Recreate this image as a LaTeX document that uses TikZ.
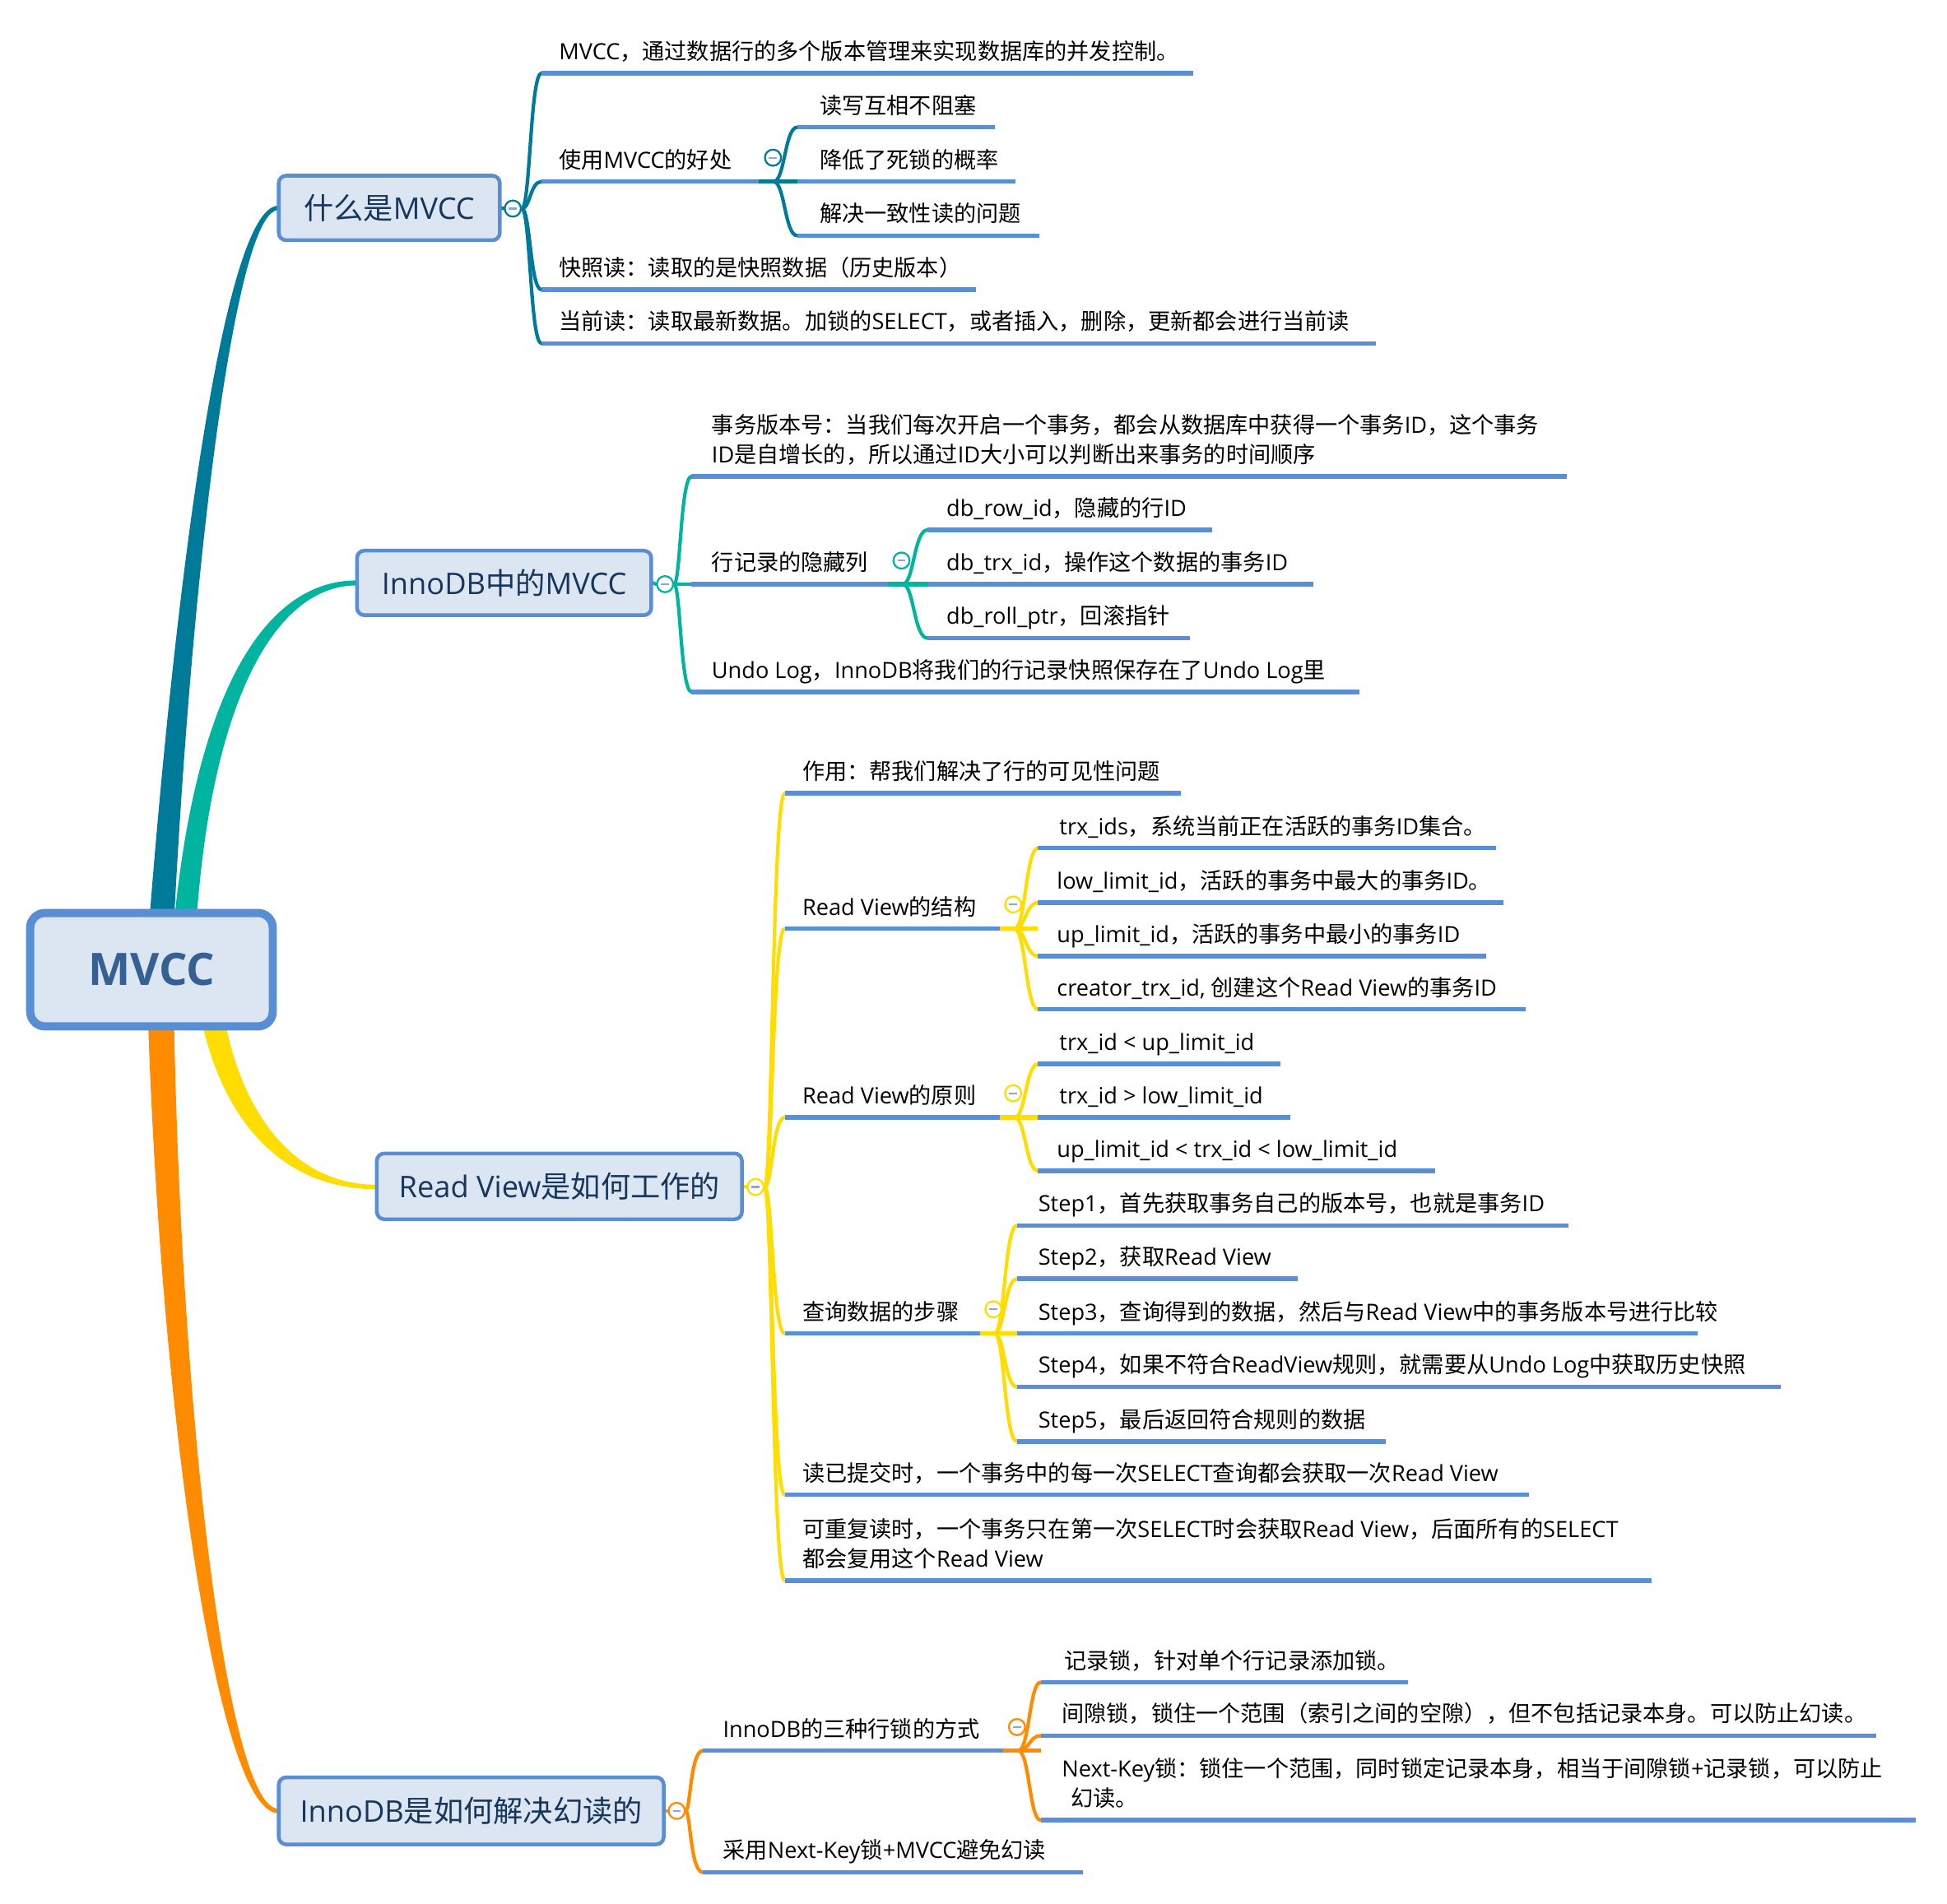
\documentclass[tikz,border=0pt]{standalone}
\usepackage{fontspec}
\setmainfont{Open Sans}
\newfontfamily\cjkfam{Noto Sans CJK SC}
\usetikzlibrary{calc}
\pgfdeclarelayer{bg}
\pgfsetlayers{bg,main}
\XeTeXinterchartokenstate=1
\newXeTeXintercharclass\CJKcls
\newcount\cjkc
\def\setcjkrange#1#2{\cjkc=#1\relax\loop\XeTeXcharclass\cjkc=\CJKcls\relax\ifnum\cjkc<#2\relax\advance\cjkc by 1\relax\repeat}
\setcjkrange{"3000}{"303F}
\setcjkrange{"4E00}{"9FFF}
\setcjkrange{"FF00}{"FFEF}
\XeTeXinterchartoks 0 \CJKcls = {\cjkfam}
\XeTeXinterchartoks 4095 \CJKcls = {\cjkfam}
\XeTeXinterchartoks \CJKcls 0 = {\rmfamily}
\XeTeXinterchartoks \CJKcls 4095 = {\rmfamily}
\definecolor{brA}{RGB}{0,122,153}
\definecolor{brB}{RGB}{0,180,160}
\definecolor{brC}{RGB}{255,221,0}
\definecolor{brD}{RGB}{255,140,0}
\definecolor{ulc}{RGB}{89,143,214}
\definecolor{boxf}{RGB}{220,230,242}
\definecolor{boxd}{RGB}{88,142,212}
\definecolor{boxt}{RGB}{23,54,93}
\definecolor{roott}{RGB}{54,96,146}
\definecolor{minc}{RGB}{150,160,210}
\tikzset{
  uline/.style={line width=3.6pt, ulc},
  bline/.style={line width=2.8pt, line cap=round},
  jline/.style={line width=3.6pt},
  txt/.style={anchor=base west, inner sep=0pt, font=\fontsize{18pt}{24pt}\selectfont},
  topicbox/.style={rectangle, rounded corners=6pt, draw=boxd, line width=3pt, fill=boxf, text=boxt,
     inner sep=0pt, text height=21.1pt, text depth=2.9pt, font=\fontsize{24pt}{28pt}\selectfont},
  rootbox/.style={rectangle, rounded corners=12pt, draw=boxd, line width=6.6pt, fill=boxf, text=roott,
     inner sep=0pt, text height=25.7pt, text depth=0pt, font=\bfseries\fontsize{36pt}{40pt}\selectfont},
  circ/.style={circle, draw=#1, fill=white, line width=1.5pt, minimum size=13pt, inner sep=0pt,
     path picture={\draw[minc, line width=1.4pt] ([xshift=-3.2pt]path picture bounding box.center) -- ([xshift=3.2pt]path picture bounding box.center);}}
}
\newcommand\leaf[6]{%
  \coordinate (#1s) at (#2,#4);
  \coordinate (#1e) at (#3,#4);
  \draw[uline] (#1s) -- (#1e);
  \node[txt] (#1) at (#5,#4-11) {#6};
}
\newcommand\leafii[8]{%
  \coordinate (#1s) at (#2,#4);
  \coordinate (#1e) at (#3,#4);
  \draw[uline] (#1s) -- (#1e);
  \node[txt] (#1) at (#5,#4-35) {#6};
  \node[txt] (#1b) at (#7,#4-11) {#8};
}
\newcommand\conn[4]{%
  \draw[bline,#1] (#2) .. controls (#2 -| #3) and (#4 -| #3) .. (#4);
}
\begin{document}
\begin{tikzpicture}[x=1pt,y=-1pt]
\useasboundingbox (0,0) rectangle (1568,1533);

% ---------- root ----------
\node[rootbox, minimum width=195.4pt, minimum height=91.4pt] (root) at (122,781) {MVCC};

% ---------- branch 1 ----------
\node[topicbox, minimum width=178pt, minimum height=52pt] (b1) at (313.5,167.5) {什么是MVCC};
\node[circ=brA] (c1) at (413,168) {};
\coordinate (sp1) at (427,0);
\leaf{a1}{436}{961}{59}{450}{MVCC，通过数据行的多个版本管理来实现数据库的并发控制。}
\leaf{a2}{436}{611}{146.3}{450}{使用MVCC的好处}
\leaf{a3}{436}{786}{233.3}{450}{快照读：读取的是快照数据（历史版本）}
\leaf{a4}{436}{1108}{276.6}{450}{当前读：读取最新数据。加锁的SELECT，或者插入，删除，更新都会进行当前读}
\node[circ=brA] (c12) at (622.5,127) {};
\coordinate (j12) at (642,146.3);
\coordinate (k12) at (623,146.3);
\coordinate (sp12) at (632,0);
\leaf{a21}{642}{801}{102.5}{660}{读写互相不阻塞}
\leaf{a22}{642}{818}{146.3}{660}{降低了死锁的概率}
\leaf{a23}{642}{837}{189.8}{660}{解决一致性读的问题}

% ---------- branch 2 ----------
\node[topicbox, minimum width=237pt, minimum height=52pt] (b2) at (406,469.5) {InnoDB中的MVCC};
\node[circ=brB] (c2) at (535.6,470.5) {};
\coordinate (sp2) at (548,0);
\leafii{i1}{557}{1262}{383.7}{573}{事务版本号：当我们每次开启一个事务，都会从数据库中获得一个事务ID，这个事务}{573}{ID是自增长的，所以通过ID大小可以判断出来事务的时间顺序}
\leaf{i2}{557}{715}{470.5}{573}{行记录的隐藏列}
\leaf{i3}{557}{1095}{557.3}{573}{Undo Log，InnoDB将我们的行记录快照保存在了Undo Log里}
\node[circ=brB] (c22) at (726,451.5) {};
\coordinate (j22) at (747,470.5);
\coordinate (k22) at (727,470.5);
\coordinate (sp22) at (736,0);
\leaf{i21}{747}{976}{426.8}{762}{db\_row\_id，隐藏的行ID}
\leaf{i22}{747}{1058}{470.5}{762}{db\_trx\_id，操作这个数据的事务ID}
\leaf{i23}{747}{958}{514}{762}{db\_roll\_ptr，回滚指针}

% ---------- branch 3 ----------
\node[topicbox, minimum width=294pt, minimum height=53pt] (b3) at (450.5,955.5) {Read View是如何工作的};
\node[circ=brC] (c3) at (608.5,956) {};
\coordinate (sp3) at (622,0);
\leaf{r1}{632}{951}{639}{646}{作用：帮我们解决了行的可见性问题}
\leaf{r2}{632}{805}{748}{646}{Read View的结构}
\leaf{r3}{632}{805}{900}{646}{Read View的原则}
\leaf{r4}{632}{789}{1074}{646}{查询数据的步骤}
\leaf{r5}{632}{1231}{1204}{646}{读已提交时，一个事务中的每一次SELECT查询都会获取一次Read View}
\leafii{r6}{632}{1330}{1273}{646}{可重复读时，一个事务只在第一次SELECT时会获取Read View，后面所有的SELECT}{646}{都会复用这个Read View}
\node[circ=brC] (c32) at (816,728.5) {};
\coordinate (j32) at (836,748);
\coordinate (k32) at (817,748);
\coordinate (sp32) at (826,0);
\leaf{r21}{836}{1205}{683}{853}{trx\_ids，系统当前正在活跃的事务ID集合。}
\leaf{r22}{836}{1211}{727}{851}{low\_limit\_id，活跃的事务中最大的事务ID。}
\leaf{r23}{836}{1197}{770}{851}{up\_limit\_id，活跃的事务中最小的事务ID}
\leaf{r24}{836}{1229}{813}{851}{creator\_trx\_id, 创建这个Read View的事务ID}
\node[circ=brC] (c33) at (816,880.5) {};
\coordinate (j33) at (836,900);
\coordinate (k33) at (817,900);
\coordinate (sp33) at (826,0);
\leaf{r31}{836}{1031}{857}{853}{trx\_id < up\_limit\_id}
\leaf{r32}{836}{1039}{900}{853}{trx\_id > low\_limit\_id}
\leaf{r33}{836}{1156}{943}{851}{up\_limit\_id < trx\_id < low\_limit\_id}
\node[circ=brC] (c34) at (800,1054.5) {};
\coordinate (j34) at (819,1074);
\coordinate (k34) at (801,1074);
\coordinate (sp34) at (809,0);
\leaf{r41}{819}{1263}{987}{836}{Step1，首先获取事务自己的版本号，也就是事务ID}
\leaf{r42}{819}{1045}{1030}{836}{Step2，获取Read View}
\leaf{r43}{819}{1367}{1074}{836}{Step3，查询得到的数据，然后与Read View中的事务版本号进行比较}
\leaf{r44}{819}{1434}{1117}{836}{Step4，如果不符合ReadView规则，就需要从Undo Log中获取历史快照}
\leaf{r45}{819}{1116}{1161}{836}{Step5，最后返回符合规则的数据}

% ---------- branch 4 ----------
\node[topicbox, minimum width=310pt, minimum height=54pt] (b4) at (379.5,1458.5) {InnoDB是如何解决幻读的};
\node[circ=brD] (c4) at (545,1458.5) {};
\coordinate (sp4) at (556,0);
\leaf{n1}{566}{808}{1410}{582}{InnoDB的三种行锁的方式}
\leaf{n2}{566}{872}{1508}{582}{采用Next-Key锁+MVCC避免幻读}
\node[circ=brD] (c41) at (819,1391) {};
\coordinate (j41) at (838,1410);
\coordinate (k41) at (820,1410);
\coordinate (sp41) at (829,0);
\leaf{n11}{838}{1134}{1355}{857}{记录锁，针对单个行记录添加锁。}
\leaf{n12}{838}{1511}{1398}{855}{间隙锁，锁住一个范围（索引之间的空隙），但不包括记录本身。可以防止幻读。}
\leafii{n13}{838}{1543}{1466}{855}{Next-Key锁：锁住一个范围，同时锁定记录本身，相当于间隙锁+记录锁，可以防止}{862}{幻读。}

% ---------- connectors (background) ----------
\begin{pgfonlayer}{bg}
% main tapered branches
\fill[brA] (120,745) .. controls (143,450) and (182,165.75) .. (224,165.75) -- (224,169.25) .. controls (190,169.25) and (155,450) .. (140,745) -- cycle;
\fill[brB] (140,745) .. controls (158,556) and (214,467.5) .. (287,467.5) -- (287,471.5) .. controls (222,471.5) and (170,564) .. (158,745) -- cycle;
\fill[brC] (161,815) .. controls (176,895) and (222,957.8) .. (303,957.8) -- (303,954.2) .. controls (230,954.2) and (191,885) .. (180,815) -- cycle;
\fill[brD] (119,815) .. controls (130,1150) and (176,1460.3) .. (224,1460.3) -- (224,1456.7) .. controls (184,1456.7) and (146,1150) .. (140,815) -- cycle;

% branch 1
\draw[bline,brA] (b1.east) -- (c1.west);
\conn{brA}{c1.east}{sp1}{a1s}
\conn{brA}{c1.east}{sp1}{a2s}
\conn{brA}{c1.east}{sp1}{a3s}
\conn{brA}{c1.east}{sp1}{a4s}
\conn{brA}{k12}{sp12}{a21s}
\conn{brA}{k12}{sp12}{a22s}
\conn{brA}{k12}{sp12}{a23s}

% branch 2
\draw[bline,brB] (b2.east) -- (c2.west);
\conn{brB}{c2.east}{sp2}{i1s}
\conn{brB}{c2.east}{sp2}{i2s}
\conn{brB}{c2.east}{sp2}{i3s}
\conn{brB}{k22}{sp22}{i21s}
\conn{brB}{k22}{sp22}{i22s}
\conn{brB}{k22}{sp22}{i23s}

% branch 3
\draw[bline,brC] (b3.east) -- (c3.west);
\conn{brC}{c3.east}{sp3}{r1s}
\conn{brC}{c3.east}{sp3}{r2s}
\conn{brC}{c3.east}{sp3}{r3s}
\conn{brC}{c3.east}{sp3}{r4s}
\conn{brC}{c3.east}{sp3}{r5s}
\conn{brC}{c3.east}{sp3}{r6s}
\conn{brC}{k32}{sp32}{r21s}
\conn{brC}{k32}{sp32}{r22s}
\conn{brC}{k32}{sp32}{r23s}
\conn{brC}{k32}{sp32}{r24s}
\conn{brC}{k33}{sp33}{r31s}
\conn{brC}{k33}{sp33}{r32s}
\conn{brC}{k33}{sp33}{r33s}
\conn{brC}{k34}{sp34}{r41s}
\conn{brC}{k34}{sp34}{r42s}
\conn{brC}{k34}{sp34}{r43s}
\conn{brC}{k34}{sp34}{r44s}
\conn{brC}{k34}{sp34}{r45s}

% branch 4
\draw[bline,brD] (b4.east) -- (c4.west);
\conn{brD}{c4.east}{sp4}{n1s}
\conn{brD}{c4.east}{sp4}{n2s}
\conn{brD}{k41}{sp41}{n11s}
\conn{brD}{k41}{sp41}{n12s}
\conn{brD}{k41}{sp41}{n13s}
\end{pgfonlayer}

% junction segments (over underlines)
\draw[jline,brA] (a2e) -- (j12);
\draw[jline,brB] (i2e) -- (j22);
\draw[jline,brC] (r2e) -- (j32);
\draw[jline,brC] (r3e) -- (j33);
\draw[jline,brC] (r4e) -- (j34);
\draw[jline,brD] (n1e) -- (j41);
\end{tikzpicture}
\end{document}
